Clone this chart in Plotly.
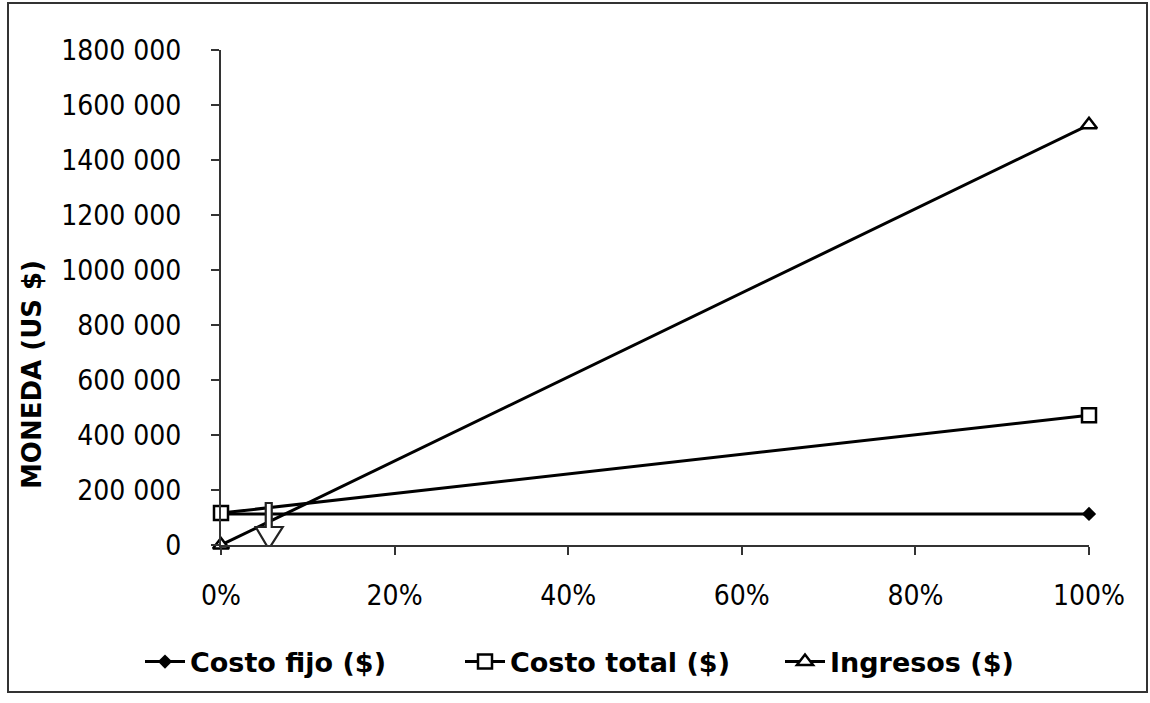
import plotly.graph_objects as go

# Share of sales volume (0 -> 100 %)
x_share = [0.0, 1.0]

# Series values in US $
costo_fijo = [113000, 113000]
costo_total = [116000, 472000]
ingresos = [0, 1528000]

# Approximate break-even marker position (share of volume)
equilibrio_x = 0.055

y_tickvals = [0, 200000, 400000, 600000, 800000, 1000000, 1200000, 1400000, 1600000, 1800000]
y_ticktext = ["0", "200 000", "400 000", "600 000", "800 000", "1000 000",
              "1200 000", "1400 000", "1600 000", "1800 000"]
x_tickvals = [0, 0.2, 0.4, 0.6, 0.8, 1.0]
x_ticktext = ["0%", "20%", "40%", "60%", "80%", "100%"]

W, H = 1150, 703
L, R, T, B = 221, 61, 50, 158
pw, ph = W - L - R, H - T - B
Y_MAX = 1800000

def px_x(p):
    return (p - L) / pw

def px_y(p):
    return (H - B - p) / ph

def dx(px):
    # horizontal pixel offset -> data units
    return px / pw

def dy(px):
    # vertical pixel offset -> data units
    return px * Y_MAX / ph

fig = go.Figure()
fig.add_trace(go.Scatter(
    x=x_share, y=costo_fijo, name="Costo fijo ($)", mode="lines+markers",
    line=dict(color="black", width=3),
    marker=dict(symbol="diamond", size=11, color="black"),
    cliponaxis=False))
fig.add_trace(go.Scatter(
    x=x_share, y=costo_total, name="Costo total ($)", mode="lines+markers",
    line=dict(color="black", width=3),
    marker=dict(symbol="square", size=14, color="white", line=dict(color="black", width=2.5)),
    cliponaxis=False))
fig.add_trace(go.Scatter(
    x=x_share, y=ingresos, name="Ingresos ($)", mode="lines+markers",
    line=dict(color="black", width=3),
    marker=dict(symbol="triangle-up", size=14, color="white", line=dict(color="black", width=2.5)),
    cliponaxis=False))

# Hollow block arrow pointing down at the break-even share
ex = equilibrio_x
tip = dy(-4)
neck = dy(18)
top = dy(42)
path = (f"M {ex - dx(3)},{top} L {ex + dx(3)},{top} L {ex + dx(3)},{neck} "
        f"L {ex + dx(14)},{neck} L {ex},{tip} L {ex - dx(13)},{neck} "
        f"L {ex - dx(3)},{neck} Z")
fig.add_shape(type="path", xref="x", yref="y", path=path,
              line=dict(color="#222", width=2.2), fillcolor="white", layer="above")

# Vertical axis title
fig.add_annotation(
    x=px_x(32), y=px_y(375), xref="paper", yref="paper", text="<b>MONEDA (US $)</b>",
    textangle=-90, showarrow=False, font=dict(family="DejaVu Sans", size=26, color="black"),
    xanchor="center", yanchor="middle")

# Outer chart frame
fig.add_shape(type="rect", xref="paper", yref="paper",
              x0=px_x(8), x1=px_x(1147), y0=px_y(692), y1=px_y(3),
              line=dict(color="#333", width=2), fillcolor="rgba(0,0,0,0)", layer="below")

fig.update_layout(
    width=W, height=H, margin=dict(l=L, r=R, t=T, b=B),
    paper_bgcolor="white", plot_bgcolor="white",
    font=dict(family="DejaVu Sans Condensed, DejaVu Sans", size=28, color="black"),
    showlegend=True,
    legend=dict(orientation="h", x=px_x(140), xanchor="left",
                y=px_y(662), yanchor="middle",
                font=dict(family="DejaVu Sans", size=27, color="black", weight="bold"),
                itemwidth=40, tracegroupgap=0, entrywidth=265, entrywidthmode="pixels"),
)
fig.update_xaxes(range=[0, 1], tickvals=x_tickvals, ticktext=x_ticktext,
                 showgrid=False, zeroline=False, showline=True, linecolor="#333", linewidth=2,
                 ticks="outside", ticklen=8, tickwidth=2, tickcolor="#333",
                 ticklabelstandoff=16)
fig.update_yaxes(range=[0, Y_MAX], tickvals=y_tickvals, ticktext=y_ticktext,
                 showgrid=False, zeroline=False, showline=True, linecolor="#333", linewidth=2,
                 ticks="outside", ticklen=8, tickwidth=2, tickcolor="#333",
                 ticklabelstandoff=24)

fig.write_html("out.html")
